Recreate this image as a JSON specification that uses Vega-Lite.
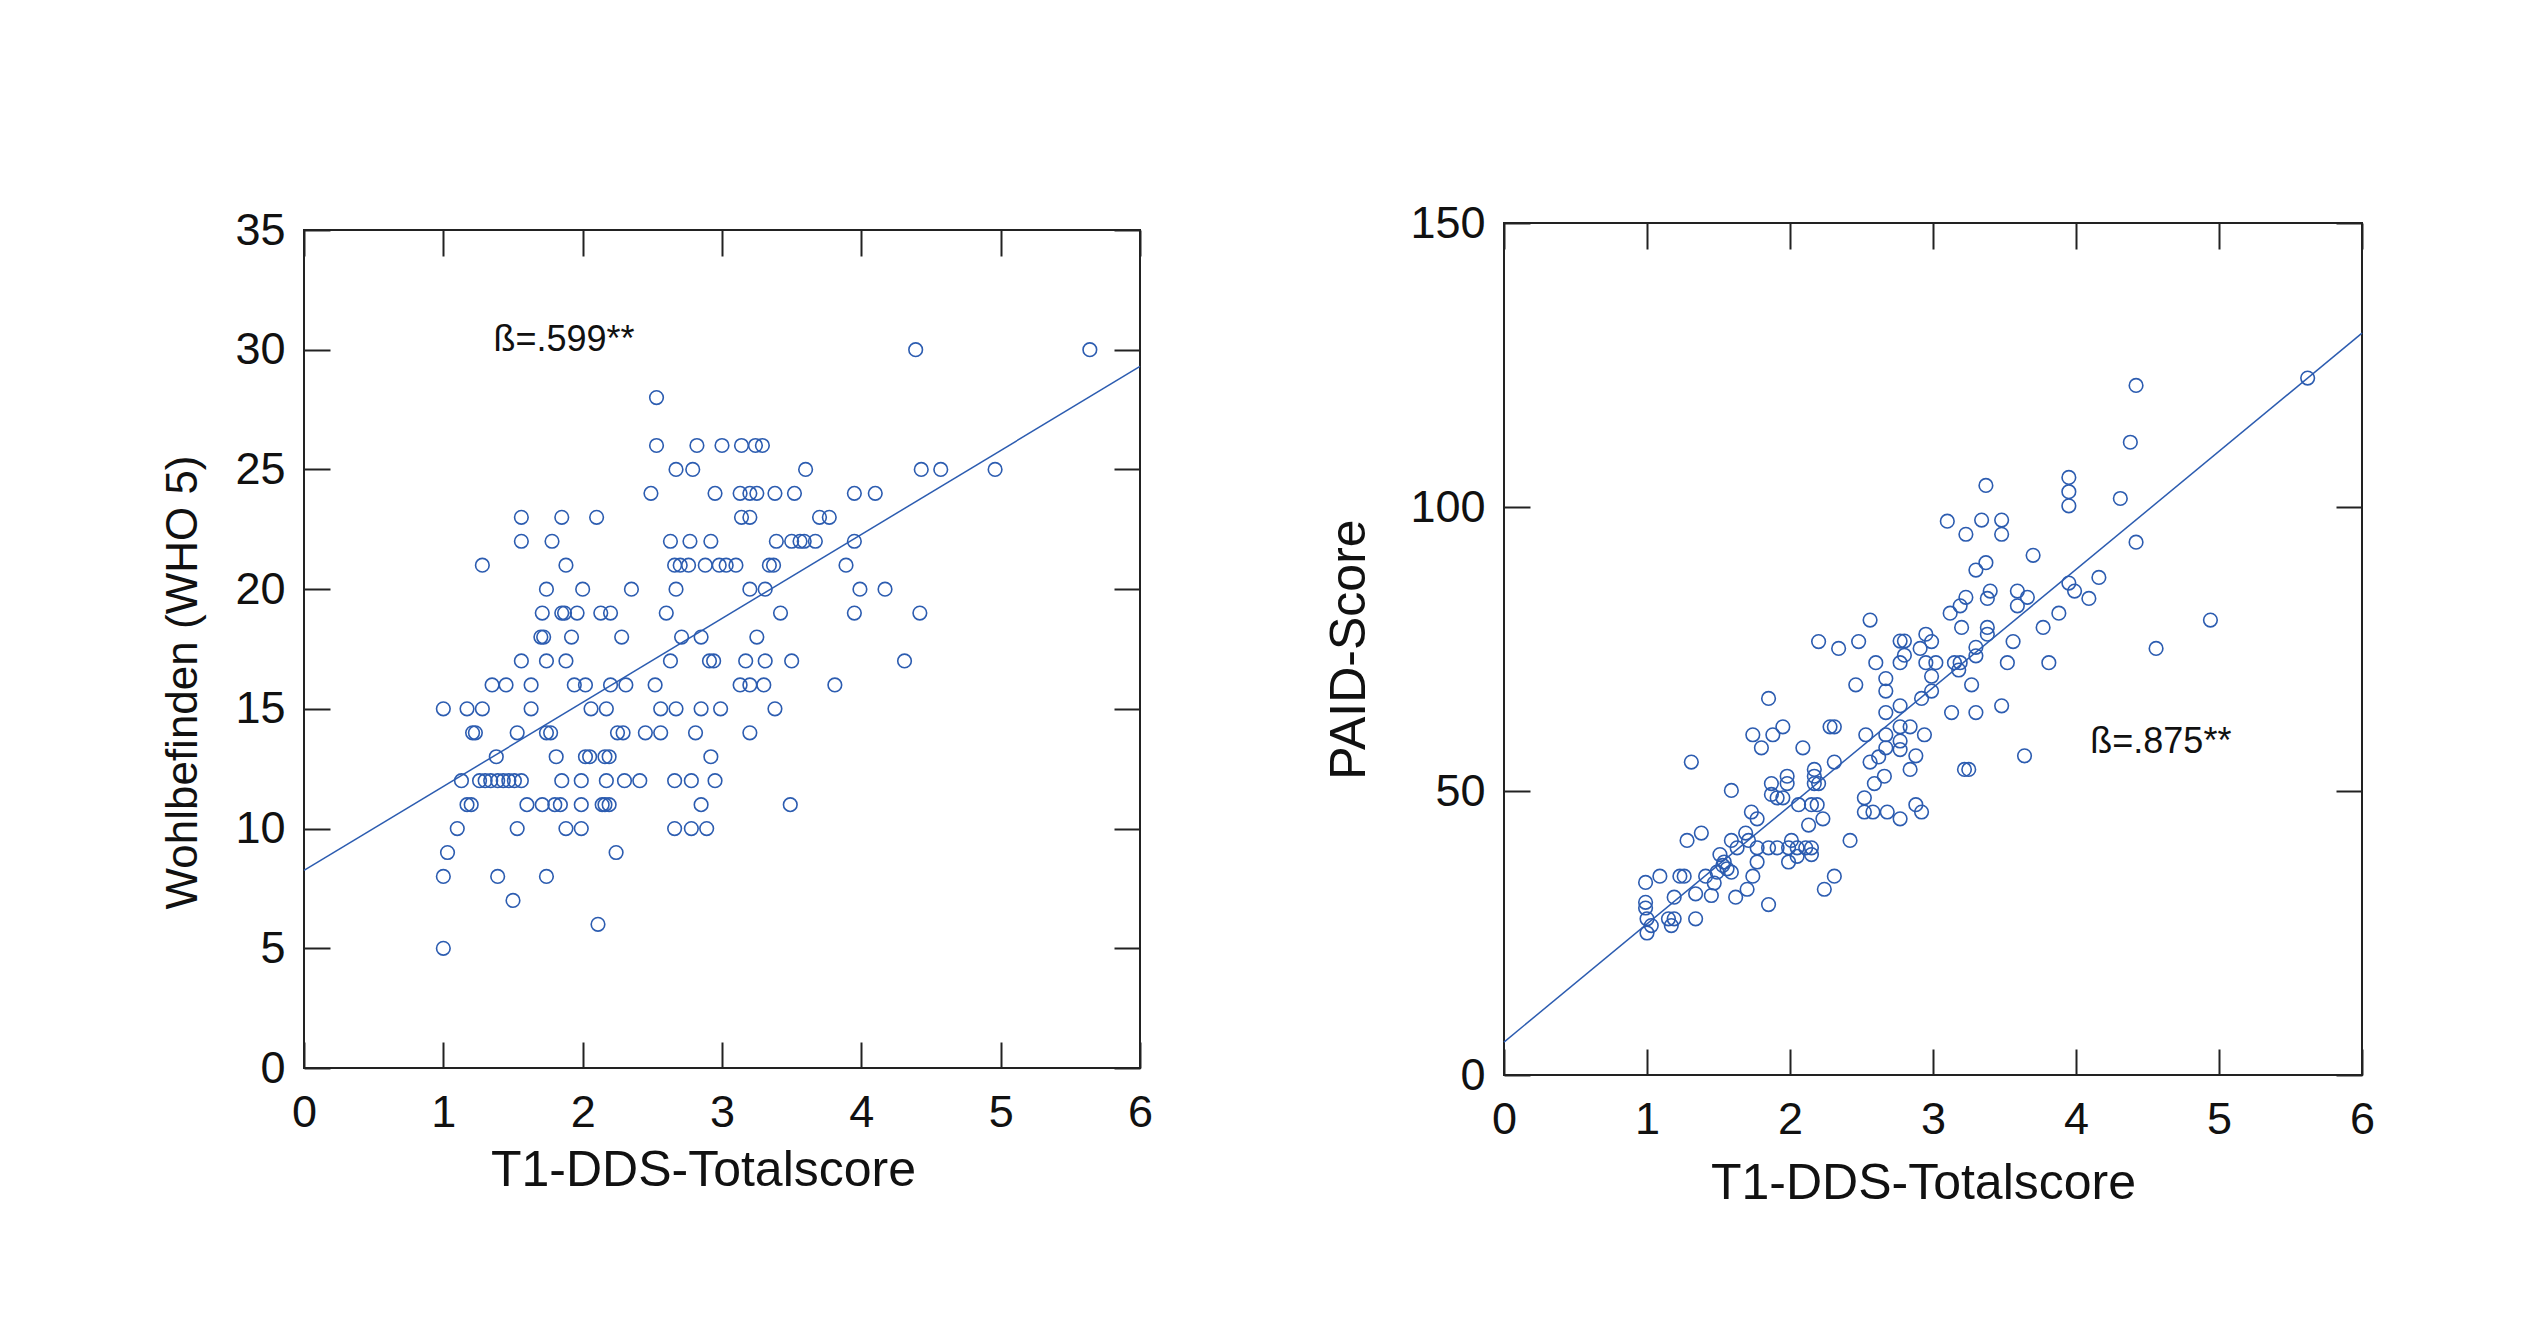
{
  "$schema": "https://vega.github.io/schema/vega-lite/v6.json",
  "background": "white",
  "padding": {"left": 160, "top": 200, "right": 0, "bottom": 0},
  "datasets": {
    "left": [
      {"x":4.39,"y":30},{"x":5.64,"y":30},
      {"x":2.53,"y":28},
      {"x":2.53,"y":26},{"x":2.82,"y":26},{"x":3.00,"y":26},{"x":3.14,"y":26},{"x":3.24,"y":26},{"x":3.29,"y":26},
      {"x":2.67,"y":25},{"x":2.79,"y":25},{"x":3.60,"y":25},{"x":4.43,"y":25},{"x":4.57,"y":25},{"x":4.96,"y":25},
      {"x":2.49,"y":24},{"x":2.95,"y":24},{"x":3.13,"y":24},{"x":3.20,"y":24},{"x":3.25,"y":24},{"x":3.38,"y":24},{"x":3.52,"y":24},{"x":3.95,"y":24},{"x":4.10,"y":24},
      {"x":1.56,"y":23},{"x":1.85,"y":23},{"x":2.10,"y":23},{"x":3.14,"y":23},{"x":3.20,"y":23},{"x":3.70,"y":23},{"x":3.77,"y":23},
      {"x":1.56,"y":22},{"x":1.78,"y":22},{"x":2.63,"y":22},{"x":2.77,"y":22},{"x":2.92,"y":22},{"x":3.39,"y":22},{"x":3.50,"y":22},{"x":3.56,"y":22},{"x":3.59,"y":22},{"x":3.67,"y":22},{"x":3.95,"y":22},
      {"x":1.28,"y":21},{"x":1.88,"y":21},{"x":2.66,"y":21},{"x":2.70,"y":21},{"x":2.76,"y":21},{"x":2.88,"y":21},{"x":2.98,"y":21},{"x":3.03,"y":21},{"x":3.10,"y":21},{"x":3.34,"y":21},{"x":3.37,"y":21},{"x":3.89,"y":21},
      {"x":1.74,"y":20},{"x":2.00,"y":20},{"x":2.35,"y":20},{"x":2.67,"y":20},{"x":3.20,"y":20},{"x":3.31,"y":20},{"x":3.99,"y":20},{"x":4.17,"y":20},
      {"x":1.71,"y":19},{"x":1.85,"y":19},{"x":1.87,"y":19},{"x":1.96,"y":19},{"x":2.13,"y":19},{"x":2.20,"y":19},{"x":2.60,"y":19},{"x":3.42,"y":19},{"x":3.95,"y":19},{"x":4.42,"y":19},
      {"x":1.70,"y":18},{"x":1.72,"y":18},{"x":1.92,"y":18},{"x":2.28,"y":18},{"x":2.71,"y":18},{"x":2.85,"y":18},{"x":3.25,"y":18},
      {"x":1.56,"y":17},{"x":1.74,"y":17},{"x":1.88,"y":17},{"x":2.63,"y":17},{"x":2.91,"y":17},{"x":2.94,"y":17},{"x":3.17,"y":17},{"x":3.31,"y":17},{"x":3.50,"y":17},{"x":4.31,"y":17},
      {"x":1.35,"y":16},{"x":1.45,"y":16},{"x":1.63,"y":16},{"x":1.94,"y":16},{"x":2.02,"y":16},{"x":2.20,"y":16},{"x":2.31,"y":16},{"x":2.52,"y":16},{"x":3.13,"y":16},{"x":3.20,"y":16},{"x":3.30,"y":16},{"x":3.81,"y":16},
      {"x":1.00,"y":15},{"x":1.17,"y":15},{"x":1.28,"y":15},{"x":1.63,"y":15},{"x":2.06,"y":15},{"x":2.17,"y":15},{"x":2.56,"y":15},{"x":2.67,"y":15},{"x":2.85,"y":15},{"x":2.99,"y":15},{"x":3.38,"y":15},
      {"x":1.21,"y":14},{"x":1.23,"y":14},{"x":1.53,"y":14},{"x":1.74,"y":14},{"x":1.77,"y":14},{"x":2.25,"y":14},{"x":2.29,"y":14},{"x":2.45,"y":14},{"x":2.56,"y":14},{"x":2.81,"y":14},{"x":3.20,"y":14},
      {"x":1.38,"y":13},{"x":1.81,"y":13},{"x":2.02,"y":13},{"x":2.05,"y":13},{"x":2.16,"y":13},{"x":2.19,"y":13},{"x":2.92,"y":13},
      {"x":1.13,"y":12},{"x":1.26,"y":12},{"x":1.30,"y":12},{"x":1.34,"y":12},{"x":1.39,"y":12},{"x":1.43,"y":12},{"x":1.47,"y":12},{"x":1.51,"y":12},{"x":1.56,"y":12},{"x":1.85,"y":12},{"x":1.99,"y":12},{"x":2.17,"y":12},{"x":2.30,"y":12},{"x":2.41,"y":12},{"x":2.66,"y":12},{"x":2.78,"y":12},{"x":2.95,"y":12},
      {"x":1.17,"y":11},{"x":1.20,"y":11},{"x":1.60,"y":11},{"x":1.71,"y":11},{"x":1.80,"y":11},{"x":1.84,"y":11},{"x":1.99,"y":11},{"x":2.14,"y":11},{"x":2.16,"y":11},{"x":2.19,"y":11},{"x":2.85,"y":11},{"x":3.49,"y":11},
      {"x":1.10,"y":10},{"x":1.53,"y":10},{"x":1.88,"y":10},{"x":1.99,"y":10},{"x":2.66,"y":10},{"x":2.78,"y":10},{"x":2.89,"y":10},
      {"x":1.03,"y":9},{"x":2.24,"y":9},
      {"x":1.00,"y":8},{"x":1.39,"y":8},{"x":1.74,"y":8},
      {"x":1.50,"y":7},{"x":2.11,"y":6},{"x":1.00,"y":5}
    ],
    "right": [
      {"x":5.62,"y":122.7},{"x":4.42,"y":121.4},{"x":4.38,"y":111.4},{"x":3.37,"y":103.8},{"x":3.95,"y":105.2},{"x":3.95,"y":102.7},{"x":3.95,"y":100.2},{"x":4.31,"y":101.5},{"x":3.10,"y":97.5},{"x":3.34,"y":97.7},{"x":3.48,"y":97.7},{"x":3.48,"y":95.2},{"x":3.23,"y":95.2},{"x":3.70,"y":91.5},{"x":4.42,"y":93.8},{"x":3.37,"y":90.2},{"x":3.30,"y":88.9},{"x":4.16,"y":87.6},{"x":3.95,"y":86.6},{"x":3.99,"y":85.2},{"x":4.09,"y":83.9},{"x":3.59,"y":85.2},{"x":3.66,"y":84.1},{"x":3.59,"y":82.6},{"x":3.40,"y":85.2},{"x":3.23,"y":84.1},{"x":3.19,"y":82.6},{"x":3.38,"y":83.9},{"x":3.12,"y":81.3},{"x":2.56,"y":80.1},{"x":4.94,"y":80.1},{"x":3.88,"y":81.3},{"x":3.77,"y":78.8},{"x":3.20,"y":78.8},{"x":3.38,"y":78.8},{"x":3.38,"y":77.6},{"x":3.56,"y":76.3},{"x":4.56,"y":75.1},{"x":2.20,"y":76.3},{"x":2.34,"y":75.1},{"x":2.48,"y":76.3},{"x":2.77,"y":76.4},{"x":2.80,"y":76.4},{"x":2.95,"y":77.6},{"x":2.99,"y":76.3},{"x":2.80,"y":73.9},{"x":2.91,"y":75.1},{"x":3.30,"y":75.3},{"x":3.30,"y":73.8},
      {"x":2.60,"y":72.6},{"x":2.77,"y":72.6},{"x":2.95,"y":72.6},{"x":3.02,"y":72.6},{"x":3.15,"y":72.6},{"x":3.19,"y":72.6},{"x":3.18,"y":71.3},{"x":3.52,"y":72.6},{"x":3.81,"y":72.6},
      {"x":2.46,"y":68.7},{"x":2.67,"y":69.8},{"x":2.67,"y":67.6},{"x":2.99,"y":70.2},{"x":2.99,"y":67.6},{"x":2.92,"y":66.3},{"x":3.27,"y":68.7},{"x":2.77,"y":65.0},{"x":2.67,"y":63.8},{"x":3.13,"y":63.8},{"x":3.30,"y":63.8},{"x":3.48,"y":65.0},{"x":1.85,"y":66.3},{"x":2.28,"y":61.3},{"x":2.31,"y":61.3},{"x":1.95,"y":61.3},{"x":1.74,"y":59.9},{"x":1.88,"y":59.9},{"x":1.80,"y":57.6},{"x":2.09,"y":57.6},{"x":2.53,"y":59.9},{"x":2.77,"y":61.3},{"x":2.77,"y":58.8},{"x":2.84,"y":61.3},{"x":2.94,"y":59.9},{"x":2.77,"y":57.3},{"x":2.88,"y":56.2},{"x":2.67,"y":59.9},{"x":2.67,"y":57.6},{"x":2.62,"y":56.0},{"x":2.56,"y":55.1},{"x":2.31,"y":55.1},{"x":1.31,"y":55.1},{"x":3.64,"y":56.2},{"x":3.22,"y":53.8},{"x":3.25,"y":53.8},{"x":2.84,"y":53.8},{"x":2.66,"y":52.6},{"x":2.59,"y":51.3},{"x":1.59,"y":50.1},{"x":1.98,"y":52.6},{"x":1.98,"y":51.3},{"x":1.87,"y":51.3},{"x":1.87,"y":49.4},{"x":2.17,"y":53.8},{"x":2.17,"y":52.6},{"x":2.17,"y":51.3},{"x":2.20,"y":51.3},{"x":1.91,"y":48.8},{"x":1.95,"y":48.8},{"x":2.06,"y":47.6},{"x":2.15,"y":47.6},{"x":2.19,"y":47.6},{"x":2.23,"y":45.1},{"x":2.13,"y":44.0},{"x":2.52,"y":48.8},{"x":2.52,"y":46.3},{"x":2.58,"y":46.3},{"x":2.68,"y":46.3},{"x":2.77,"y":45.1},{"x":2.88,"y":47.6},{"x":2.92,"y":46.3},{"x":1.73,"y":46.3},{"x":1.77,"y":45.1},{"x":1.28,"y":41.3},{"x":1.38,"y":42.6},{"x":2.42,"y":41.3},{"x":1.69,"y":42.6},{"x":1.71,"y":41.3},{"x":1.59,"y":41.3},{"x":1.63,"y":40.0},{"x":1.77,"y":40.0},{"x":1.85,"y":40.0},{"x":1.91,"y":40.0},{"x":1.99,"y":40.0},{"x":2.05,"y":40.0},{"x":2.11,"y":40.0},{"x":2.15,"y":40.0},{"x":2.01,"y":41.3},{"x":1.99,"y":37.5},{"x":2.05,"y":38.5},{"x":1.77,"y":37.5},{"x":1.51,"y":38.8},{"x":1.54,"y":37.5},{"x":1.56,"y":36.3},{"x":1.49,"y":35.7},{"x":1.47,"y":33.8},{"x":2.15,"y":38.8},{"x":1.74,"y":35.0},{"x":1.70,"y":32.7},{"x":1.62,"y":31.3},{"x":1.85,"y":30.0},{"x":2.24,"y":32.7},{"x":2.31,"y":35.0},{"x":0.99,"y":33.9},{"x":1.09,"y":35.0},{"x":1.23,"y":35.0},{"x":1.26,"y":35.0},{"x":1.41,"y":35.0},{"x":1.34,"y":31.9},{"x":1.45,"y":31.6},{"x":1.19,"y":31.3},{"x":0.99,"y":30.4},{"x":0.99,"y":29.4},{"x":1.00,"y":27.5},{"x":1.00,"y":25.0},{"x":1.03,"y":26.3},{"x":1.15,"y":27.5},{"x":1.19,"y":27.5},{"x":1.34,"y":27.5},{"x":1.17,"y":26.3},{"x":1.59,"y":35.7},{"x":1.53,"y":36.9}
    ]
  },
  "hconcat": [
    {
      "width": 836,
      "height": 838,
      "layer": [
        {
          "data": {"name": "left"},
          "mark": {"type": "point", "shape": "circle", "filled": false, "size": 185, "strokeWidth": 1.6, "color": "#2c5cb0", "opacity": 1},
          "encoding": {
            "x": {"field": "x", "type": "quantitative", "scale": {"domain": [0, 6], "nice": false, "zero": false},
              "axis": {"orient": "bottom", "values": [0,1,2,3,4,5,6], "title": "T1-DDS-Totalscore", "titlePadding": 10, "titleX": 399, "titleFontSize": 50}},
            "y": {"field": "y", "type": "quantitative", "scale": {"domain": [0, 35], "nice": false},
              "axis": {"orient": "left", "values": [0,5,10,15,20,25,30,35], "title": "Wohlbefinden (WHO 5)", "titlePadding": 29, "titleY": 452, "titleFontSize": 44}}
          }
        },
        {
          "data": {"values": [{"x": 0, "y": 8.25}, {"x": 6, "y": 29.3}]},
          "mark": {"type": "line", "color": "#2c5cb0", "strokeWidth": 1.5},
          "encoding": {
            "x": {"field": "x", "type": "quantitative", "scale": {"domain": [0, 6], "nice": false},
              "axis": {"orient": "top", "values": [0,1,2,3,4,5,6], "labels": false, "title": null}},
            "y": {"field": "y", "type": "quantitative", "scale": {"domain": [0, 35], "nice": false},
              "axis": {"orient": "right", "values": [0,5,10,15,20,25,30,35], "labels": false, "title": null}}
          }
        },
        {
          "data": {"values": [{"x": 1.36, "y": 30.4, "label": "ß=.599**"}]},
          "mark": {"type": "text", "align": "left", "baseline": "middle", "fontSize": 36, "color": "#111"},
          "encoding": {
            "x": {"field": "x", "type": "quantitative", "axis": null},
            "y": {"field": "y", "type": "quantitative", "axis": null},
            "text": {"field": "label"}
          }
        }
      ],
      "resolve": {"axis": {"x": "independent", "y": "independent"}}
    },
    {
      "width": 858,
      "height": 852,
      "layer": [
        {
          "data": {"name": "right"},
          "mark": {"type": "point", "shape": "circle", "filled": false, "size": 185, "strokeWidth": 1.6, "color": "#2c5cb0", "opacity": 1},
          "encoding": {
            "x": {"field": "x", "type": "quantitative", "scale": {"domain": [0, 6], "nice": false, "zero": false},
              "axis": {"orient": "bottom", "values": [0,1,2,3,4,5,6], "title": "T1-DDS-Totalscore", "titlePadding": 16, "titleX": 419, "titleFontSize": 50}},
            "y": {"field": "y", "type": "quantitative", "scale": {"domain": [0, 150], "nice": false},
              "axis": {"orient": "left", "values": [0,50,100,150], "title": "PAID-Score", "titlePadding": 35, "titleFontSize": 50}}
          }
        },
        {
          "data": {"values": [{"x": 0, "y": 5.8}, {"x": 6, "y": 130.6}]},
          "mark": {"type": "line", "color": "#2c5cb0", "strokeWidth": 1.5},
          "encoding": {
            "x": {"field": "x", "type": "quantitative", "scale": {"domain": [0, 6], "nice": false},
              "axis": {"orient": "top", "values": [0,1,2,3,4,5,6], "labels": false, "title": null}},
            "y": {"field": "y", "type": "quantitative", "scale": {"domain": [0, 150], "nice": false},
              "axis": {"orient": "right", "values": [0,50,100,150], "labels": false, "title": null}}
          }
        },
        {
          "data": {"values": [{"x": 4.1, "y": 58.6, "label": "ß=.875**"}]},
          "mark": {"type": "text", "align": "left", "baseline": "middle", "fontSize": 36, "color": "#111"},
          "encoding": {
            "x": {"field": "x", "type": "quantitative", "axis": null},
            "y": {"field": "y", "type": "quantitative", "axis": null},
            "text": {"field": "label"}
          }
        }
      ],
      "resolve": {"axis": {"x": "independent", "y": "independent"}}
    }
  ],
  "spacing": 364,
  "bounds": "flush",
  "center": true,
  "config": {
    "font": "Liberation Sans",
    "view": {"stroke": "#222", "strokeWidth": 2},
    "axis": {
      "grid": false,
      "domain": false,
      "ticks": true,
      "tickSize": -26,
      "tickWidth": 2,
      "tickColor": "#222",
      "labelFontSize": 45,
      "labelColor": "#111",
      "labelFlush": false,
      "labelOverlap": false,
      "labelFont": "Liberation Sans",
      "titleFont": "Liberation Sans",
      "titleFontSize": 48,
      "titleFontWeight": "normal",
      "titleColor": "#111"
    },
    "axisX": {"labelPadding": 48},
    "axisY": {"labelPadding": 45}
  }
}
